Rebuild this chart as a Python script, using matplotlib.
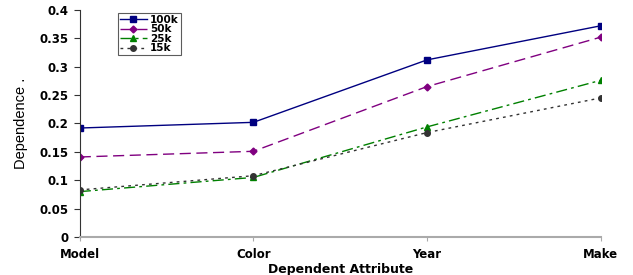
import matplotlib
matplotlib.use("Agg")
import matplotlib.pyplot as plt

# data
categories = ["Model", "Color", "Year", "Make"]
v100k = [0.192, 0.202, 0.312, 0.372]
v50k = [0.141, 0.151, 0.265, 0.352]
v25k = [0.080, 0.105, 0.194, 0.276]
v15k = [0.083, 0.108, 0.184, 0.245]

plt.rcParams['font.family'] = ['DejaVu Sans']

fig = plt.figure(figsize=(6.33, 2.75), dpi=100)
ax = fig.add_axes([0.126, 0.138, 0.823, 0.826])

x = range(len(categories))
ax.plot(x, v100k, color="#000080", linestyle="-", linewidth=1, marker="s", markersize=5, label="100k")
ax.plot(x, v50k, color="#800080", linestyle=(0, (8, 4)), linewidth=1, marker="D", markersize=3.5, label="50k")
ax.plot(x, v25k, color="#008000", linestyle=(0, (8, 3, 2, 3)), linewidth=1, marker="^", markersize=5, label="25k")
ax.plot(x, v15k, color="#333333", linestyle=(0, (2, 3)), linewidth=1, marker="o", markersize=4, label="15k")

ax.set_xlim(0, 3)
ax.set_ylim(0, 0.4)
ax.set_yticks([0, 0.05, 0.1, 0.15, 0.2, 0.25, 0.3, 0.35, 0.4])
ax.set_yticklabels(["0", "0.05", "0.1", "0.15", "0.2", "0.25", "0.3", "0.35", "0.4"])
ax.set_xticks(list(x))
ax.set_xticklabels(categories)
for lab in ax.get_xticklabels() + ax.get_yticklabels():
    lab.set_fontweight("bold")
    lab.set_fontsize(8.5)

ax.spines['top'].set_visible(False)
ax.spines['right'].set_visible(False)
ax.spines['bottom'].set_color("#aaaaaa")
ax.spines['bottom'].set_linewidth(1.5)
ax.spines['left'].set_color("#333333")
ax.tick_params(axis='y', direction='out', length=4, color="#333333", pad=4)
ax.tick_params(axis='x', direction='out', length=3, color="#aaaaaa", pad=5)

ax.set_xlabel("Dependent Attribute", fontsize=9, fontweight="bold", labelpad=1)
ax.set_ylabel("Dependence .", fontsize=10.5, labelpad=8,
              family=['Liberation Sans', 'DejaVu Sans'])

leg = ax.legend(loc="upper left", bbox_to_anchor=(0.073, 0.987), fontsize=7.5,
                frameon=True, fancybox=False, edgecolor="#333333",
                handlelength=2.6, labelspacing=-0.05, borderpad=0.2,
                handletextpad=0.3, borderaxespad=0.0)
leg.get_frame().set_linewidth(0.8)
for t in leg.get_texts():
    t.set_fontweight("bold")

fig.savefig("out.png", dpi=100)
